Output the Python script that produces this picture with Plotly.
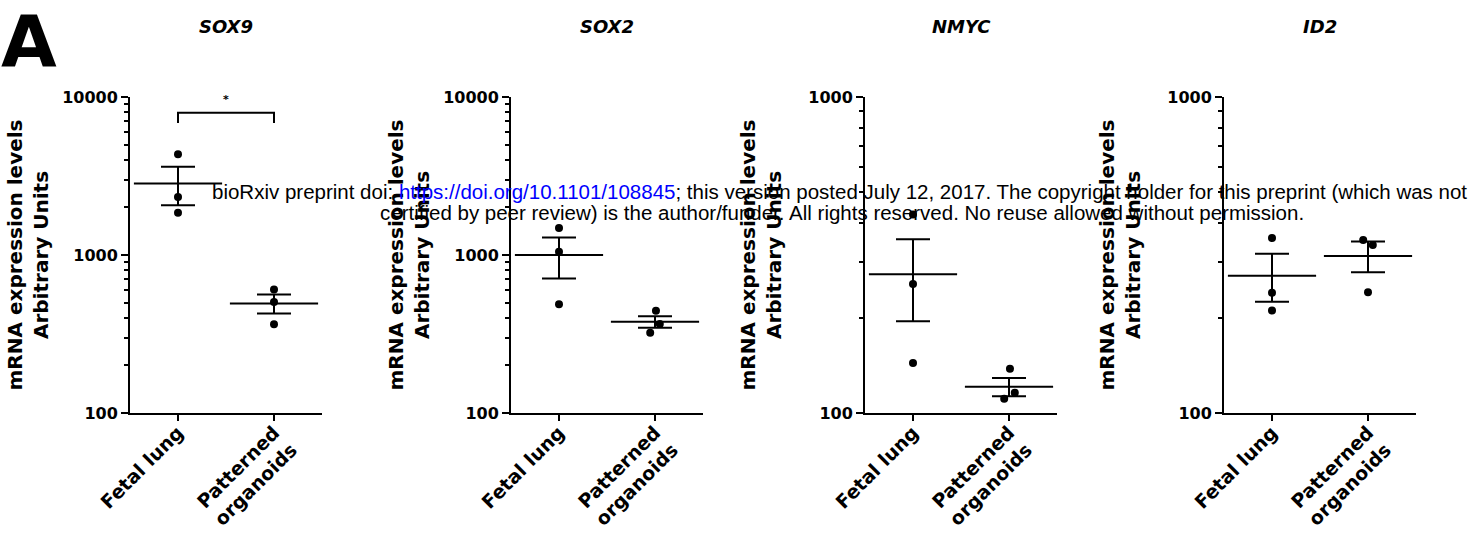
import math
import plotly.graph_objects as go

# ---------------- data ----------------
genes = ["SOX9", "SOX2", "NMYC", "ID2"]
groups = ["Fetal lung", "Patterned<br>organoids"]

# individual replicates
sox9_fetal = [4340, 2330, 1850]
sox9_org = [605, 505, 365]
sox2_fetal = [1480, 1050, 487]
sox2_org = [443, 366, 322]
nmyc_fetal = [425, 256, 144]
nmyc_org = [138, 116, 111]
id2_fetal = [358, 240, 211]
id2_org = [353, 340, 241]

# group mean and SEM (fetal lung, patterned organoids)
sox9_mean = [2840, 494]
sox9_sem = [776, 68]
sox2_mean = [1000, 378]
sox2_sem = [291, 32]
nmyc_mean = [275, 121]
nmyc_sem = [80, 8]
id2_mean = [272, 314]
id2_sem = [47, 35]

# y axis ticks (log scale)
tick_sox = [100, 1000, 10000]
tick_small = [100, 1000]

# significance for SOX9
sig_label = "*"

# ---------------- styling / layout ----------------
points = [[sox9_fetal, sox9_org], [sox2_fetal, sox2_org],
          [nmyc_fetal, nmyc_org], [id2_fetal, id2_org]]
means = [sox9_mean, sox2_mean, nmyc_mean, id2_mean]
sems = [sox9_sem, sox2_sem, nmyc_sem, id2_sem]
tickvals = [tick_sox, tick_sox, tick_small, tick_small]

# horizontal scatter offsets of the dots (style, in category units)
dot_dx = [[[0, 0, 0], [0, 0, 0]],
          [[0, 0, 0], [0.01, 0.05, -0.05]],
          [[0, 0, 0], [0.01, 0.06, -0.05]],
          [[0, 0, 0], [-0.05, 0.05, 0]]]

W, H = 1469, 542
axis_left = [130, 511, 865, 1224]
axis_w = 192
y_top, y_bot = 97, 413
title_standoff = [8, 8, 21, 21]

bold = dict(family="DejaVu Sans", weight="bold", color="black")

fig = go.Figure()
layout = dict(
    width=W, height=H,
    margin=dict(l=0, r=0, t=0, b=0),
    paper_bgcolor="white", plot_bgcolor="rgba(0,0,0,0)",
    showlegend=False, template="none",
)
annotations = []

for i in range(4):
    sfx = "" if i == 0 else str(i + 1)
    xref, yref = "x" + sfx, "y" + sfx
    tv = tickvals[i]
    lo, hi = math.log10(tv[0]), math.log10(tv[-1])
    minor_vals = [m * 10 ** e for e in range(int(lo), int(hi)) for m in range(2, 10)]

    layout["xaxis" + sfx] = dict(
        domain=[axis_left[i] / W, (axis_left[i] + axis_w) / W],
        range=[-0.5, 1.5], anchor=yref,
        tickmode="array", tickvals=[0, 1], ticktext=groups, tickangle=-45,
        ticks="outside", ticklen=6, tickwidth=2, tickcolor="black",
        ticklabelstandoff=-7,
        showline=True, linewidth=2, linecolor="black",
        showgrid=False, zeroline=False, automargin=False,
        tickfont=dict(size=19, **bold),
    )
    layout["yaxis" + sfx] = dict(
        domain=[1 - y_bot / H, 1 - y_top / H],
        type="log", range=[lo, hi], anchor=xref,
        tickmode="array", tickvals=tv, ticktext=[str(v) for v in tv],
        ticks="outside", ticklen=7, tickwidth=2, tickcolor="black",
        minor=dict(tickmode="array", tickvals=minor_vals, ticks="outside",
                   ticklen=4, tickwidth=1.5, tickcolor="black", showgrid=False),
        showline=True, linewidth=2, linecolor="black",
        showgrid=False, zeroline=False, automargin=False,
        tickfont=dict(size=16, **bold),
        title=dict(text="mRNA expression levels<br>Arbitrary Units",
                   font=dict(size=20, **bold), standoff=title_standoff[i]),
    )

    # individual points
    for g in range(2):
        fig.add_trace(go.Scatter(
            x=[g + d for d in dot_dx[i][g]], y=points[i][g],
            mode="markers", xaxis=xref, yaxis=yref,
            marker=dict(size=8, color="black"), hoverinfo="y",
        ))
    # mean line + SEM
    fig.add_trace(go.Scatter(
        x=[0, 1], y=means[i], mode="markers", xaxis=xref, yaxis=yref,
        marker=dict(symbol="line-ew", size=63, color="black",
                    line=dict(width=2, color="black")),
        error_y=dict(type="data", array=sems[i], visible=True,
                     width=17, thickness=2, color="black"),
    ))

    # panel title
    annotations.append(dict(
        text=genes[i], xref="paper", yref="paper",
        x=(axis_left[i] + axis_w / 2) / W, y=1 - 27 / H,
        xanchor="center", yanchor="middle", showarrow=False,
        font=dict(size=18, style="italic", **bold),
    ))

# significance bracket in SOX9 panel
fig.add_trace(go.Scatter(
    x=[0, 0, 1, 1], y=[6850, 7950, 7950, 6850], mode="lines",
    xaxis="x", yaxis="y", line=dict(color="black", width=2), hoverinfo="skip",
))
annotations.append(dict(
    text=sig_label, xref="x", yref="y", x=0.5, y=math.log10(9600),
    showarrow=False, font=dict(size=11, **bold),
))

# panel letter
annotations.append(dict(
    text="A", xref="paper", yref="paper", x=0, y=1 - 41 / H,
    xanchor="left", yanchor="middle", showarrow=False, borderpad=0,
    font=dict(size=72, **bold),
))

# bioRxiv overlay (two lines)
wm_font = dict(family="Liberation Sans, Arial", size=20.5, color="black")
annotations.append(dict(
    text=("bioRxiv preprint doi: <span style='color:#0000ff'>https://doi.org/10.1101/108845</span>; "
          "this version posted July 12, 2017. The copyright holder for this preprint (which was not"),
    xref="paper", yref="paper", x=839 / W, y=1 - 191 / H,
    xanchor="center", yanchor="middle", showarrow=False, font=wm_font,
))
annotations.append(dict(
    text=("certified by peer review) is the author/funder. All rights reserved. "
          "No reuse allowed without permission."),
    xref="paper", yref="paper", x=842 / W, y=1 - 212 / H,
    xanchor="center", yanchor="middle", showarrow=False, font=wm_font,
))

layout["annotations"] = annotations
fig.update_layout(**layout)
fig.write_html("out.html")
